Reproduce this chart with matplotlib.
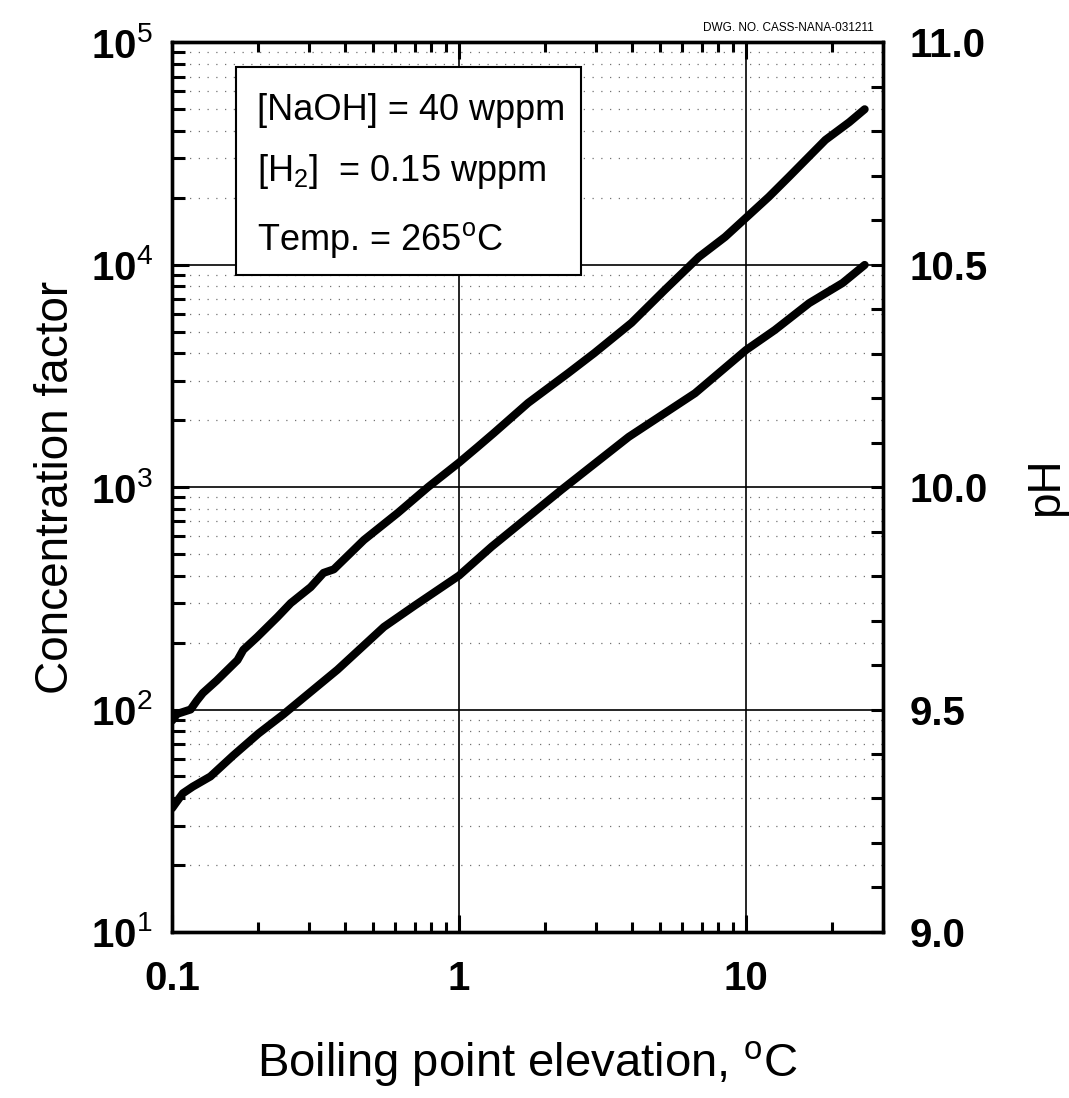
import matplotlib
matplotlib.use('Agg')
import matplotlib.pyplot as plt
from matplotlib.ticker import FixedLocator, LogLocator, MultipleLocator, NullFormatter
from matplotlib.patches import Rectangle

plt.rcParams['font.family'] = ['Liberation Sans', 'DejaVu Sans']
plt.rcParams['mathtext.fontset'] = 'custom'
plt.rcParams['mathtext.rm'] = 'Liberation Sans'
plt.rcParams['mathtext.bf'] = 'Liberation Sans:bold'
plt.rcParams['mathtext.it'] = 'Liberation Sans:italic'

# concentration factor vs boiling point elevation (left axis)
cf_bpe = [0.10, 0.103, 0.109, 0.118, 0.136, 0.163, 0.20, 0.244, 0.377, 0.547,
          0.70, 1.0, 1.3, 2.27, 3.9, 6.64, 10.0, 12.6, 16.6, 21.7, 25.9]
cf_val = [36, 38, 42, 45, 50, 62, 78, 95, 151, 235,
          293, 400, 540, 970, 1680, 2640, 4130, 5080, 6710, 8260, 9960]

# pH vs boiling point elevation (right axis)
ph_bpe = [0.10, 0.104, 0.116, 0.122, 0.128, 0.143, 0.169, 0.177, 0.198, 0.233,
          0.259, 0.304, 0.337, 0.366, 0.466, 0.612, 0.78, 1.0, 1.16, 1.32,
          1.74, 2.40, 2.96, 3.99, 5.21, 6.85, 8.45, 10.07, 12.0, 14.1,
          18.9, 22.9, 25.9]
ph_val = [9.475, 9.49, 9.50, 9.52, 9.537, 9.565, 9.611, 9.634, 9.663, 9.708,
          9.739, 9.775, 9.807, 9.815, 9.881, 9.942, 10.0, 10.055, 10.09, 10.121,
          10.189, 10.256, 10.301, 10.369, 10.443, 10.517, 10.562, 10.607, 10.652, 10.697,
          10.78, 10.82, 10.849]

x_ticks = [0.1, 1, 10]
x_tick_labels = ['0.1', '1', '10']
cf_ticks = [10, 100, 1000, 10000, 100000]
cf_tick_labels = [r'$\mathbf{10}^{%d}$' % n for n in range(1, 6)]
ph_ticks = [9.0, 9.5, 10.0, 10.5, 11.0]
ph_tick_labels = ['9.0', '9.5', '10.0', '10.5', '11.0']
box_lines = ['[NaOH] = 40 wppm', r'[H$_2$]  = 0.15 wppm', r'Temp. = 265$^{\mathrm{o}}$C']

fig = plt.figure(figsize=(10.69, 10.98), dpi=100)
ax = fig.add_axes([0.161, 0.1512, 0.665, 0.8105])
ax.set_xscale('log')
ax.set_yscale('log')
ax.set_xlim(0.1, 30)
ax.set_ylim(10, 1e5)

# grid: solid at decades, dotted at minor y positions
ax.set_axisbelow(True)
ax.grid(True, which='major', color='black', lw=1.2, ls='-')
ax.yaxis.grid(True, which='minor', color='0.45', lw=0.9, ls=(0, (1, 6)))

ax.plot(cf_bpe, cf_val, color='black', lw=5.8, solid_capstyle='round', zorder=3)

ax.xaxis.set_major_locator(FixedLocator(x_ticks))
ax.set_xticklabels(x_tick_labels)
ax.xaxis.set_minor_locator(LogLocator(base=10, subs=range(2, 10), numticks=20))
ax.xaxis.set_minor_formatter(NullFormatter())
ax.yaxis.set_major_locator(FixedLocator(cf_ticks))
ax.set_yticklabels(cf_tick_labels)
ax.yaxis.set_minor_locator(LogLocator(base=10, subs=range(2, 10), numticks=20))
ax.yaxis.set_minor_formatter(NullFormatter())

ax.tick_params(axis='x', which='both', direction='in', top=True, bottom=True, width=2.2)
ax.tick_params(axis='x', which='major', length=12, pad=20, labelsize=29)
ax.tick_params(axis='x', which='minor', length=7)
ax.tick_params(axis='y', which='both', direction='in', left=True, right=False, width=2.2)
ax.tick_params(axis='y', which='major', length=12, pad=14, labelsize=29)
ax.tick_params(axis='y', which='minor', length=9)
for lab in ax.get_xticklabels():
    lab.set_fontweight('bold')
for sp in ax.spines.values():
    sp.set_linewidth(2.4)

ax.set_xlabel(r'Boiling point elevation, $^{\mathrm{o}}$C', fontsize=34, labelpad=30)
ax.set_ylabel('Concentration factor', fontsize=33, labelpad=9)

ax2 = ax.twinx()
ax2.set_ylim(9.0, 11.0)
ax2.plot(ph_bpe, ph_val, color='black', lw=5.8, solid_capstyle='round', zorder=3)
ax2.yaxis.set_major_locator(FixedLocator(ph_ticks))
ax2.set_yticklabels(ph_tick_labels, fontweight='bold')
ax2.yaxis.set_minor_locator(MultipleLocator(0.1))
ax2.tick_params(axis='y', which='both', direction='in', width=2.2, length=9)
ax2.tick_params(axis='y', which='major', pad=19, labelsize=29)
ax2.set_ylabel('pH', fontsize=33, labelpad=26)
for sp in ax2.spines.values():
    sp.set_linewidth(2.4)

# condition box
box = Rectangle((0.090, 0.738), 0.485, 0.234, transform=ax2.transAxes,
                facecolor='white', edgecolor='black', lw=1.5, zorder=5)
ax2.add_patch(box)
for y, txt in zip([0.9236, 0.854, 0.7775], box_lines):
    ax2.text(0.1195, y, txt, transform=ax2.transAxes, fontsize=26,
             va='center', ha='left', zorder=6)

fig.text(0.817, 0.9745, 'DWG. NO. CASS-NANA-031211', fontsize=8.5,
         ha='right', va='center')

fig.savefig('out.png', dpi=100)
